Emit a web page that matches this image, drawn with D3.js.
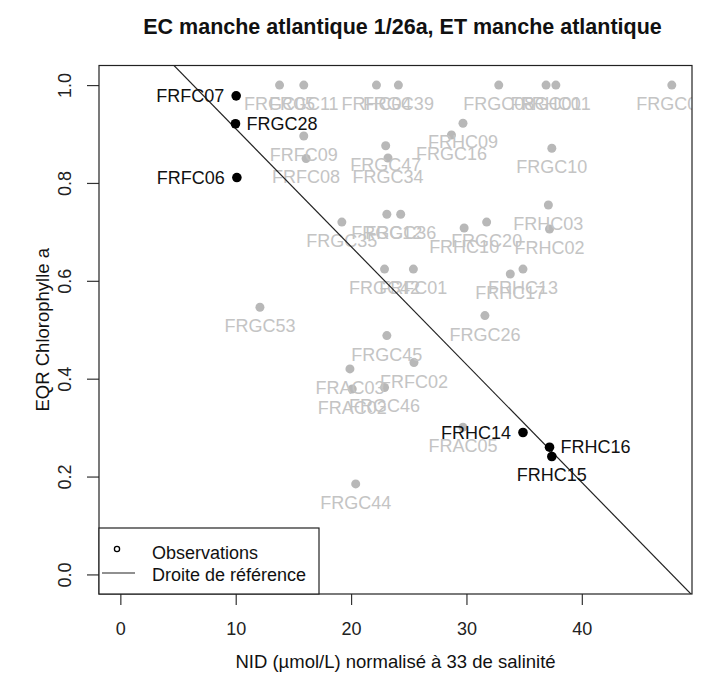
<!DOCTYPE html>
<html>
<head>
<meta charset="utf-8">
<script src="https://cdn.jsdelivr.net/npm/d3@7"></script>
<style>
  body { margin: 0; background: #fff; }
  svg { display: block; font-family: "Liberation Sans", Arial, sans-serif; }
</style>
</head>
<body>
<svg id="chart" width="704" height="682"></svg>
<script>
// grey points (other water bodies)
var greySites = ["FRGC05","FRGC11","FRHC04","FRGC39","FRGC08","FRGC01","FRHC01","FRGC07",
                 "FRHC09","FRGC16","FRFC09","FRGC47","FRFC08","FRGC34","FRGC10","FRHC03",
                 "FRHC02","FRGC20","FRHC10","FRGC35","FRGC12","FRGC36","FRGC42","FRFC01",
                 "FRHC13","FRHC17","FRGC53","FRGC26","FRGC45","FRFC02","FRAC03","FRAC02",
                 "FRGC46","FRAC05","FRGC44"];
var greyNid = [13.8, 15.9, 22.2, 24.1, 32.8, 36.9, 37.75, 47.8,
               29.7, 28.7, 15.9, 23.0, 16.1, 23.2, 37.4, 37.1,
               37.2, 31.75, 29.8, 19.2, 23.1, 24.3, 22.9, 25.4,
               34.9, 33.8, 12.1, 31.6, 23.1, 25.45, 19.9, 20.1,
               22.9, 29.7, 20.4];
var greyEqr = [1.0, 1.0, 1.0, 1.0, 1.0, 1.0, 1.0, 1.0,
               0.922, 0.898, 0.896, 0.876, 0.850, 0.851, 0.871, 0.755,
               0.706, 0.720, 0.708, 0.720, 0.736, 0.736, 0.624, 0.624,
               0.624, 0.614, 0.546, 0.529, 0.488, 0.433, 0.420, 0.379,
               0.382, 0.301, 0.185];

// black points (masses d'eau de la zone)
var mainSites = ["FRFC07","FRGC28","FRFC06","FRHC14","FRHC16","FRHC15"];
var mainNid = [10.04, 9.98, 10.1, 34.9, 37.2, 37.4];
var mainEqr = [0.978, 0.921, 0.811, 0.290, 0.260, 0.241];

// droite de reference
var refIntercept = 1.152;
var refSlope = -0.0241;

var xTicks = [0, 10, 20, 30, 40];
var yTicks = [0, 0.2, 0.4, 0.6, 0.8, 1.0];

var titleText = "EC manche atlantique 1/26a, ET manche atlantique";
var xLabel = "NID (\u00b5mol/L) normalis\u00e9 \u00e0 33 de salinit\u00e9";
var yLabel = "EQR Chlorophylle a";
var legendItems = ["Observations", "Droite de r\u00e9f\u00e9rence"];

// label side for the highlighted sites (R text pos)
var labelSide = { FRFC07: "left", FRGC28: "right", FRFC06: "left",
                  FRHC14: "left", FRHC16: "right", FRHC15: "below" };

var svg = d3.select("#chart");
var pLeft = 99, pRight = 692, pTop = 65.5, pBottom = 594;
var fs = 18;

var x = d3.scaleLinear().domain([-1.85, 49.55]).range([pLeft, pRight]);
var y = d3.scaleLinear().domain([-0.04, 1.04]).range([pBottom, pTop]);

svg.append("defs").append("clipPath").attr("id", "plotclip")
    .append("rect").attr("x", pLeft).attr("y", pTop)
    .attr("width", pRight - pLeft).attr("height", pBottom - pTop);

var greyData = greySites.map(function(s, i){ return {site: s, nid: greyNid[i], eqr: greyEqr[i]}; });
var mainData = mainSites.map(function(s, i){ return {site: s, nid: mainNid[i], eqr: mainEqr[i]}; });

var plot = svg.append("g").attr("clip-path", "url(#plotclip)");

// grey points + labels below
plot.selectAll(".gdot").data(greyData).enter().append("circle")
    .attr("class", "gdot")
    .attr("cx", function(d){ return x(d.nid); })
    .attr("cy", function(d){ return y(d.eqr); })
    .attr("r", 4.5)
    .style("fill", "#b8b8b8");

plot.selectAll(".glab").data(greyData).enter().append("text")
    .attr("class", "glab")
    .attr("x", function(d){ return x(d.nid); })
    .attr("y", function(d){ return y(d.eqr) + 19; })
    .attr("text-anchor", "middle")
    .attr("dominant-baseline", "central")
    .style("font-size", fs + "px")
    .style("fill", "#c4c4c4")
    .text(function(d){ return d.site; });

// reference line
var xd = x.domain();
plot.append("line")
    .attr("x1", x(xd[0])).attr("y1", y(refIntercept + refSlope * xd[0]))
    .attr("x2", x(xd[1])).attr("y2", y(refIntercept + refSlope * xd[1]))
    .style("stroke", "#222").style("stroke-width", 1.2);

// black points + labels
plot.selectAll(".mdot").data(mainData).enter().append("circle")
    .attr("class", "mdot")
    .attr("cx", function(d){ return x(d.nid); })
    .attr("cy", function(d){ return y(d.eqr); })
    .attr("r", 4.8)
    .style("fill", "#000");

plot.selectAll(".mlab").data(mainData).enter().append("text")
    .attr("class", "mlab")
    .attr("x", function(d){
        var side = labelSide[d.site];
        if (side == "left") return x(d.nid) - 12;
        if (side == "right") return x(d.nid) + 11;
        return x(d.nid);
    })
    .attr("y", function(d){ return labelSide[d.site] == "below" ? y(d.eqr) + 19 : y(d.eqr); })
    .attr("text-anchor", function(d){
        var side = labelSide[d.site];
        return side == "left" ? "end" : (side == "right" ? "start" : "middle");
    })
    .attr("dominant-baseline", "central")
    .style("font-size", fs + "px")
    .style("fill", "#111")
    .text(function(d){ return d.site; });

// axes
var xAxis = svg.append("g").attr("transform", "translate(0," + pBottom + ")")
    .call(d3.axisBottom(x).tickValues(xTicks).tickSize(11).tickPadding(17).tickFormat(d3.format("d")));
var yAxis = svg.append("g").attr("transform", "translate(" + pLeft + ",0)")
    .call(d3.axisLeft(y).tickValues(yTicks).tickSize(12).tickFormat(d3.format(".1f")));

[xAxis, yAxis].forEach(function(a){
    a.select(".domain").remove();
    a.selectAll("line").style("stroke", "#333").style("stroke-width", 1.2);
    a.selectAll("text").style("font-size", fs + "px").style("fill", "#222")
        .style("font-family", "\"Liberation Sans\", Arial, sans-serif");
});
yAxis.selectAll("text")
    .attr("x", null).attr("dy", null)
    .attr("y", -34)
    .attr("transform", "rotate(-90)")
    .attr("text-anchor", "middle")
    .attr("dominant-baseline", "central");

// plot frame
svg.append("rect")
    .attr("x", pLeft).attr("y", pTop)
    .attr("width", pRight - pLeft).attr("height", pBottom - pTop)
    .style("fill", "none").style("stroke", "#222").style("stroke-width", 1.2);

// legend
var leg = svg.append("g");
leg.append("rect")
    .attr("x", pLeft).attr("y", 528)
    .attr("width", 220).attr("height", pBottom - 528)
    .style("fill", "#fff").style("stroke", "#222").style("stroke-width", 1.2);
leg.append("circle").attr("cx", 117).attr("cy", 549).attr("r", 2.6)
    .style("fill", "none").style("stroke", "#000").style("stroke-width", 1.3);
leg.append("line").attr("x1", 102).attr("x2", 135).attr("y1", 573).attr("y2", 573)
    .style("stroke", "#222").style("stroke-width", 1.2);
leg.selectAll(".legtext").data(legendItems).enter().append("text")
    .attr("class", "legtext")
    .attr("x", 152)
    .attr("y", function(d, i){ return 553 + i * 22; })
    .attr("dominant-baseline", "central")
    .style("font-size", fs + "px")
    .style("fill", "#111")
    .text(function(d){ return d; });

// title and axis titles
svg.append("text")
    .attr("x", (pLeft + pRight) / 2 + 7).attr("y", 27)
    .attr("text-anchor", "middle").attr("dominant-baseline", "central")
    .style("font-size", "21.5px").style("font-weight", "bold").style("fill", "#111")
    .text(titleText);

svg.append("text")
    .attr("x", (pLeft + pRight) / 2).attr("y", 661)
    .attr("text-anchor", "middle").attr("dominant-baseline", "central")
    .style("font-size", "18.5px").style("fill", "#111")
    .text(xLabel);

svg.append("text")
    .attr("transform", "translate(42," + ((pTop + pBottom) / 2) + ") rotate(-90)")
    .attr("text-anchor", "middle").attr("dominant-baseline", "central")
    .style("font-size", "18.5px").style("fill", "#111")
    .text(yLabel);
</script>
</body>
</html>
